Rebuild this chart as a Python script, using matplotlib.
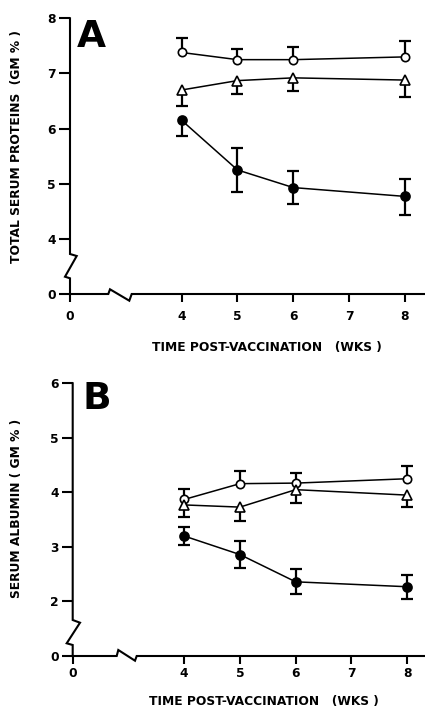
import numpy as np
import matplotlib
matplotlib.use("Agg")
import matplotlib.pyplot as plt

plt.rcParams['font.family'] = ['DejaVu Sans']
plt.rcParams['font.weight'] = 'bold'

# ---------------- data ----------------
weeks = [4, 5, 6, 8]

# Panel A: total serum proteins (GM %)
a_open = [7.38, 7.25, 7.25, 7.30]
a_open_hi = [0.26, 0.20, 0.23, 0.29]
a_tri = [6.70, 6.87, 6.92, 6.88]
a_tri_lo = [0.29, 0.25, 0.24, 0.31]
a_fill = [6.15, 5.25, 4.93, 4.77]
a_fill_lo = [0.29, 0.40, 0.30, 0.33]
a_fill_hi = [0.00, 0.40, 0.30, 0.31]

# Panel B: serum albumin (GM %)
b_open = [3.87, 4.16, 4.17, 4.25]
b_open_hi = [0.19, 0.24, 0.18, 0.24]
b_tri = [3.77, 3.73, 4.05, 3.95]
b_tri_lo = [0.23, 0.26, 0.25, 0.21]
b_fill = [3.20, 2.86, 2.36, 2.27]
b_fill_lo = [0.16, 0.25, 0.23, 0.22]
b_fill_hi = [0.16, 0.25, 0.23, 0.22]

x_ticks = [0, 4, 5, 6, 7, 8]
a_yticks = [0, 4, 5, 6, 7, 8]
b_yticks = [0, 2, 3, 4, 5, 6]

xlabel = "TIME POST-VACCINATION   (WKS )"
a_ylabel = "TOTAL SERUM PROTEINS  (GM % )"
b_ylabel = "SERUM ALBUMIN ( GM % )"

W, H = 425, 709
fig = plt.figure(figsize=(W / 100, H / 100), dpi=100)


def broken_scale(brk, base):
    # values below the break are compressed into one unit below it
    def fwd(v):
        v = np.asarray(v, dtype=float)
        return np.where(v >= brk, v, base + v * (brk - base) / brk)

    def inv(u):
        u = np.asarray(u, dtype=float)
        return np.where(u >= brk, u, (u - base) * brk / (brk - base))
    return fwd, inv


def panel(rect_px, ylo_disp, ybrk, yticks, ytop, xright, series, letter,
          letter_px, ylabel, ylabel_px, xlabel_px, xpad, yspine, xspine):
    l, b, r, t = rect_px
    ax = fig.add_axes([l / W, 1 - b / H, (r - l) / W, (b - t) / H])
    fx = broken_scale(4, 2)
    fy = broken_scale(ybrk, ylo_disp)
    ax.set_xscale('function', functions=fx)
    ax.set_yscale('function', functions=fy)
    ax.set_xlim(0, xright)
    ax.set_ylim(0, ytop)
    ax.set_xticks(x_ticks)
    ax.set_yticks(yticks)
    ax.set_xticklabels([str(v) for v in x_ticks])
    ax.set_yticklabels([str(v) for v in yticks])
    ax.minorticks_off()
    for s in ax.spines.values():
        s.set_visible(False)
    ax.tick_params(axis='x', direction='out', length=6, width=1.5,
                   labelsize=8.8, pad=xpad)
    ax.tick_params(axis='y', direction='out', length=8, width=1.5,
                   labelsize=8.8, pad=2)
    for lab in ax.get_xticklabels() + ax.get_yticklabels():
        lab.set_fontweight('bold')

    # axis lines with break marks (pixel offsets from axes origin)
    aw, ah = r - l, b - t
    xs = [p[0] / aw for p in yspine]
    ys = [p[1] / ah for p in yspine]
    ax.plot(xs, ys, transform=ax.transAxes, color='black', lw=1.5,
            clip_on=False, solid_joinstyle='miter', zorder=5)
    xs = [p[0] / aw for p in xspine]
    ys = [p[1] / ah for p in xspine]
    ax.plot(xs, ys, transform=ax.transAxes, color='black', lw=1.5,
            clip_on=False, solid_joinstyle='miter', zorder=5)

    for vals, lo_err, hi_err, marker, face, ms in series:
        vals = np.asarray(vals)
        for err, sign in ((lo_err, -1), (hi_err, 1)):
            if err is None:
                continue
            err = np.asarray(err)
            keep = err > 0
            xk = np.asarray(weeks)[keep]
            ends = vals[keep] + sign * err[keep]
            ax.vlines(xk, vals[keep], ends, color='black', lw=1.6, zorder=2)
            ax.plot(xk, ends, ls='none', marker='_', ms=8, mew=1.6,
                    color='black', zorder=2)
        ax.plot(weeks, vals, color='black', lw=1.1, marker=marker, ms=ms,
                mfc=face, mec='black', mew=1.2, zorder=3, clip_on=False)

    fig.text(letter_px[0] / W, 1 - letter_px[1] / H, letter, fontsize=27,
             fontweight='bold', ha='center', va='center')
    fig.text(ylabel_px[0] / W, 1 - ylabel_px[1] / H, ylabel, rotation=90,
             fontsize=8.8, fontweight='bold', ha='center', va='center')
    fig.text(xlabel_px[0] / W, 1 - xlabel_px[1] / H, xlabel,
             fontsize=8.8, fontweight='bold', ha='center', va='center')
    return ax


panel((70, 294, 425, 18.3), 3, 4, a_yticks, 8, 8.36,
      [(a_open, None, a_open_hi, 'o', 'white', 6),
       (a_tri, a_tri_lo, None, '^', 'white', 6.5),
       (a_fill, a_fill_lo, a_fill_hi, 'o', 'black', 6.5)],
      'A', (91.5, 37), a_ylabel, (17, 147), (267, 347), 5.5,
      [(0, 275.7), (0, 40), (6.7, 38), (-5, 17.3), (0, 15.7), (0, 0)],
      [(0, 0), (38.3, 0), (40, 4.7), (59.3, -6.7), (61.7, 0), (355, 0)])

panel((72.7, 656, 425, 383.3), 1, 2, b_yticks, 6, 8.32,
      [(b_open, None, b_open_hi, 'o', 'white', 6),
       (b_tri, b_tri_lo, None, '^', 'white', 6.5),
       (b_fill, b_fill_lo, b_fill_hi, 'o', 'black', 6.5)],
      'B', (96.5, 399), b_ylabel, (17, 508), (264, 702), 2,
      [(0, 272.7), (0, 36), (7.3, 33.3), (-6, 12.7), (0, 11), (0, 0)],
      [(0, 0), (44, 0), (45.6, 6), (62.3, -4.7), (64, 0), (352.3, 0)])

fig.savefig('out.png', dpi=100)
